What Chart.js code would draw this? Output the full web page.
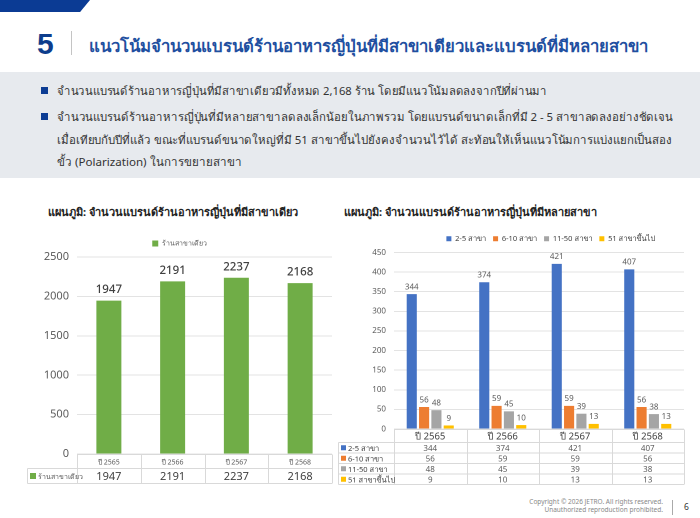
<!DOCTYPE html>
<html lang="th">
<head>
<meta charset="UTF-8">
<title>แนวโน้มจำนวนแบรนด์ร้านอาหารญี่ปุ่น</title>
<script src="https://cdn.jsdelivr.net/npm/chart.js"></script>
<style>
  body { margin:0; width:700px; height:518px; position:relative; background:#fff; overflow:hidden;
         font-family:"Noto Sans", "DejaVu Sans", sans-serif; color:#333; }
  .tab { position:absolute; left:0; top:0; width:90px; height:12px; background:#0b3b94;
         clip-path:polygon(0 0, 100% 0, 89% 100%, 0 100%); }
  .num { position:absolute; left:37px; top:27px; font:bold 30px "Liberation Sans", Arial, sans-serif; color:#0d3d8c; }
  .vbar { position:absolute; left:71px; top:31px; width:1px; height:24px; background:#c4c4c4; }
  .title { position:absolute; left:89px; top:33px; font-size:16.7px; font-weight:bold; color:#1f4fa0; white-space:nowrap; }
  .box { position:absolute; left:0; top:72px; width:700px; height:106px; background:#e7eaee; }
  .bul { position:absolute; left:57px; font-size:11.6px; line-height:22.5px; color:#333; white-space:nowrap; }
  .bul span { display:inline-block; transform-origin:0 50%; }
  .bul.first::before { content:""; position:absolute; left:-16px; top:7px; width:7px; height:7px; background:#0d3d94; }
  .ctitle { position:absolute; top:203px; font-size:11px; font-weight:bold; color:#222; white-space:nowrap; }
  canvas { position:absolute; }
  .copy { position:absolute; right:37px; top:498px; font-size:6.5px; line-height:8px; color:#888; text-align:right; }
  .fbar { position:absolute; left:672px; top:500px; width:1px; height:15px; background:#aaa; }
  .page { position:absolute; left:684px; top:501px; font-size:8.5px; color:#333; }
</style>
</head>
<body>
<div class="tab"></div>
<div class="num">5</div>
<div class="vbar"></div>
<div class="title">แนวโน้มจำนวนแบรนด์ร้านอาหารญี่ปุ่นที่มีสาขาเดียวและแบรนด์ที่มีหลายสาขา</div>
<div class="box"></div>
<div class="bul first" style="top:80px"><span data-w="490">จำนวนแบรนด์ร้านอาหารญี่ปุ่นที่มีสาขาเดียวมีทั้งหมด 2,168 ร้าน โดยมีแนวโน้มลดลงจากปีที่ผ่านมา</span></div>
<div class="bul first" style="top:106px"><span data-w="616">จำนวนแบรนด์ร้านอาหารญี่ปุ่นที่มีหลายสาขาลดลงเล็กน้อยในภาพรวม โดยแบรนด์ขนาดเล็กที่มี 2 - 5 สาขาลดลงอย่างชัดเจน</span></div>
<div class="bul" style="top:128.5px"><span data-w="615">เมื่อเทียบกับปีที่แล้ว ขณะที่แบรนด์ขนาดใหญ่ที่มี 51 สาขาขึ้นไปยังคงจำนวนไว้ได้ สะท้อนให้เห็นแนวโน้มการแบ่งแยกเป็นสอง</span></div>
<div class="bul" style="top:151px"><span>ขั้ว (Polarization) ในการขยายสาขา</span></div>
<div class="ctitle" style="left:48px">แผนภูมิ: จำนวนแบรนด์ร้านอาหารญี่ปุ่นที่มีสาขาเดียว</div>
<div class="ctitle" style="left:344px">แผนภูมิ: จำนวนแบรนด์ร้านอาหารญี่ปุ่นที่มีหลายสาขา</div>

<canvas id="single" style="left:27px; top:228px; width:308px; height:262px"></canvas>
<canvas id="multi" style="left:338px; top:228px; width:362px; height:262px"></canvas>

<div class="copy">Copyright © 2026 JETRO. All rights reserved.<br>Unauthorized reproduction prohibited.</div>
<div class="fbar"></div>
<div class="page">6</div>

<script>
// ข้อมูล
const years = ['ปี 2565', 'ปี 2566', 'ปี 2567', 'ปี 2568'];
const singleBranch = [1947, 2191, 2237, 2168];
const branch2to5 = [344, 374, 421, 407];
const branch6to10 = [56, 59, 59, 56];
const branch11to50 = [48, 45, 39, 38];
const branch51plus = [9, 10, 13, 13];
const singleTicks = [0, 500, 1000, 1500, 2000, 2500];
const multiTicks = [0, 50, 100, 150, 200, 250, 300, 350, 400, 450];

const FONT = '"Noto Sans", "DejaVu Sans", sans-serif';

// ปรับความกว้างบรรทัดข้อความให้เท่ากับต้นฉบับ
document.querySelectorAll('.bul span[data-w]').forEach(s => {
    const w = s.getBoundingClientRect().width;
    s.style.transform = 'scaleX(' + (Number(s.dataset.w) / w) + ')';
});

// ตัวเลขบนแท่ง
const valueLabels = {
    id: 'valueLabels',
    afterDatasetsDraw(chart, args, o) {
        const ctx = chart.ctx;
        ctx.save();
        ctx.font = o.font;
        ctx.fillStyle = o.color;
        ctx.textAlign = 'center';
        ctx.textBaseline = 'bottom';
        chart.data.datasets.forEach((ds, i) => {
            chart.getDatasetMeta(i).data.forEach((bar, j) => {
                ctx.fillText(ds.data[j], bar.x, bar.y - o.offset);
            });
        });
        ctx.restore();
    }
};

// ตารางข้อมูลใต้กราฟ
const dataTable = {
    id: 'dataTable',
    afterDraw(chart, args, o) {
        const { ctx, chartArea: a, scales: { x } } = chart;
        const n = chart.data.labels.length;
        const step = (a.right - a.left) / n;
        const rows = chart.data.datasets;
        const top = Math.round(a.bottom) + 0.5;
        const bodyTop = top + o.headH;
        const bottom = bodyTop + rows.length * o.rowH;
        const keyLeft = o.keyLeft + 0.5;
        ctx.save();
        ctx.strokeStyle = o.border;
        ctx.lineWidth = 1;
        ctx.beginPath();
        ctx.moveTo(a.left, top); ctx.lineTo(a.right, top);
        for (let i = 0; i <= rows.length; i++) {
            ctx.moveTo(keyLeft, bodyTop + i * o.rowH);
            ctx.lineTo(a.right, bodyTop + i * o.rowH);
        }
        for (let k = 0; k <= n; k++) {
            const xx = Math.round(a.left + k * step) + 0.5;
            ctx.moveTo(xx, top); ctx.lineTo(xx, bottom);
        }
        ctx.moveTo(keyLeft, bodyTop); ctx.lineTo(keyLeft, bottom);
        ctx.stroke();

        ctx.textAlign = 'center';
        ctx.textBaseline = 'middle';
        ctx.font = o.headFont;
        ctx.fillStyle = o.headColor;
        chart.data.labels.forEach((lab, j) => {
            ctx.fillText(lab, x.getPixelForValue(j), top + o.headH / 2 + 1);
        });
        rows.forEach((ds, i) => {
            const y = bodyTop + i * o.rowH + o.rowH / 2 + 1;
            ctx.fillStyle = ds.backgroundColor;
            ctx.fillRect(o.keyLeft + 3, y - o.box / 2 - 1, o.box, o.box);
            ctx.textAlign = 'left';
            ctx.font = o.keyFont;
            ctx.fillStyle = o.keyColor;
            ctx.fillText(ds.label, o.keyLeft + 5 + o.box, y);
            ctx.textAlign = 'center';
            ctx.font = o.valFont;
            ctx.fillStyle = o.valColor;
            ds.data.forEach((v, j) => ctx.fillText(v, x.getPixelForValue(j), y));
        });
        ctx.restore();
    }
};

// เลื่อนคำอธิบายกราฟในแนวนอน
const legendShift = {
    id: 'legendShift',
    afterLayout(chart, args, o) {
        if (chart.legend && o.dx) {
            chart.legend.left += o.dx;
            chart.legend.right += o.dx;
        }
    }
};

function yAxis(ticks, width, size) {
    return {
        min: ticks[0],
        max: ticks[ticks.length - 1],
        afterBuildTicks: s => { s.ticks = ticks.map(v => ({ value: v })); },
        afterFit: s => { s.width = width; },
        border: { display: false },
        grid: { color: '#e3e3e3', drawTicks: false },
        ticks: { color: '#595959', font: { family: FONT, size: size }, padding: 8, callback: v => String(v) }
    };
}

new Chart(document.getElementById('single'), {
    type: 'bar',
    data: {
        labels: years,
        datasets: [{
            label: 'ร้านสาขาเดียว',
            data: singleBranch,
            backgroundColor: '#70ad47',
            categoryPercentage: 0.8,
            barPercentage: 0.49
        }]
    },
    options: {
        responsive: false,
        animation: false,
        devicePixelRatio: 2,
        layout: { padding: { left: 0, right: 3, top: 2, bottom: 36 } },
        scales: {
            x: { display: false },
            y: yAxis(singleTicks, 50, 11)
        },
        plugins: {
            tooltip: { enabled: false },
            legend: {
                labels: { boxWidth: 6, boxHeight: 6, padding: 10, color: '#595959', font: { family: FONT, size: 7 } }
            },
            legendShift: { dx: 0 },
            valueLabels: { font: '500 11.5px ' + FONT, color: '#404040', offset: 5 },
            dataTable: {
                headH: 14, rowH: 15, keyLeft: 0, box: 6, border: '#d9d9d9',
                headFont: '7px ' + FONT, headColor: '#595959',
                keyFont: '7px ' + FONT, keyColor: '#595959',
                valFont: '11px ' + FONT, valColor: '#404040'
            }
        }
    },
    plugins: [valueLabels, dataTable, legendShift]
});

new Chart(document.getElementById('multi'), {
    type: 'bar',
    data: {
        labels: years,
        datasets: [
            { label: '2-5 สาขา', data: branch2to5, backgroundColor: '#4472c4' },
            { label: '6-10 สาขา', data: branch6to10, backgroundColor: '#ed7d31' },
            { label: '11-50 สาขา', data: branch11to50, backgroundColor: '#a5a5a5' },
            { label: '51 สาขาขึ้นไป', data: branch51plus, backgroundColor: '#ffc000' }
        ]
    },
    options: {
        responsive: false,
        animation: false,
        devicePixelRatio: 2,
        datasets: { bar: { categoryPercentage: 0.68, barPercentage: 0.82 } },
        layout: { padding: { left: 0, right: 16, top: 0, bottom: 61 } },
        scales: {
            x: { display: false },
            y: yAxis(multiTicks, 56, 8)
        },
        plugins: {
            tooltip: { enabled: false },
            legend: {
                labels: { boxWidth: 5, boxHeight: 5, padding: 7, color: '#404040', font: { family: FONT, size: 7.5 } }
            },
            legendShift: { dx: 40 },
            valueLabels: { font: '8px ' + FONT, color: '#595959', offset: 3 },
            dataTable: {
                headH: 13, rowH: 10.5, keyLeft: 0, box: 5, border: '#d9d9d9',
                headFont: '9.5px ' + FONT, headColor: '#404040',
                keyFont: '7.5px ' + FONT, keyColor: '#404040',
                valFont: '8px ' + FONT, valColor: '#595959'
            }
        }
    },
    plugins: [valueLabels, dataTable, legendShift]
});
</script>
</body>
</html>
